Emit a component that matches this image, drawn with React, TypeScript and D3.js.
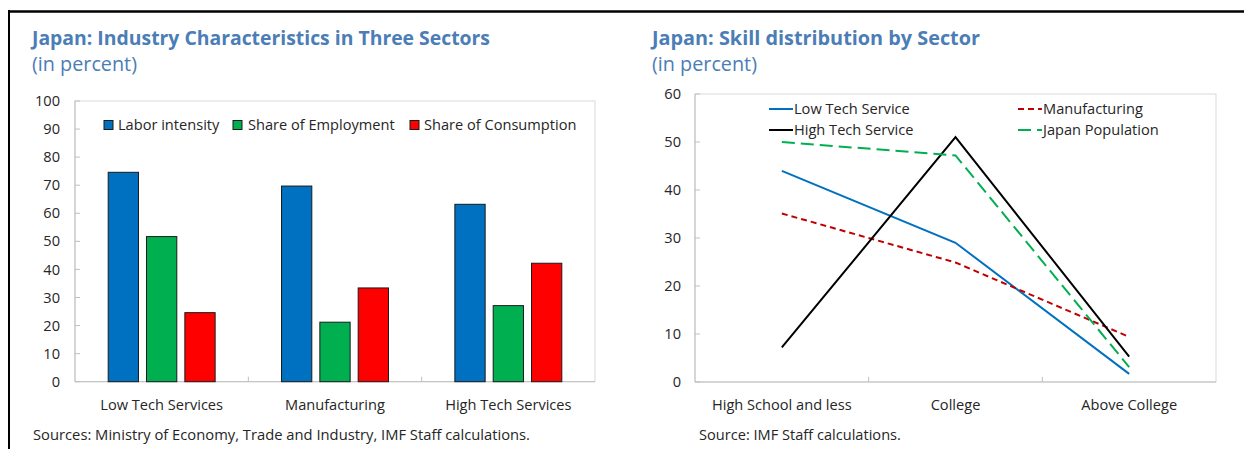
import React from "react";
import * as d3 from "d3";

// ---- Left chart data ----
const sectors = ["Low Tech Services", "Manufacturing", "High Tech Services"];
const barSeries = ["Labor intensity", "Share of Employment", "Share of Consumption"];
const laborIntensity = [74.6, 69.7, 63.2];
const shareEmployment = [51.7, 21.2, 27.1];
const shareConsumption = [24.6, 33.4, 42.2];
const barColors = ["#0070C0", "#00B050", "#FF0000"];
const barTicks = [0, 10, 20, 30, 40, 50, 60, 70, 80, 90, 100];

// ---- Right chart data ----
const skills = ["High School and less", "College", "Above College"];
const lineSeries = ["Low Tech Service", "Manufacturing", "High Tech Service", "Japan Population"];
const lowTechService = [44.0, 29.0, 1.7];
const manufacturing = [35.1, 24.9, 9.4];
const highTechService = [7.2, 51.0, 5.3];
const japanPopulation = [50.0, 47.2, 3.1];
const lineTicks = [0, 10, 20, 30, 40, 50, 60];

const FONT = "'Open Sans', 'Noto Sans', sans-serif";
const TXT = "#262626";
const AXIS = "#BFBFBF";
const TITLE = "#4B7DB6";
const FS = 14.6;

export default function App() {
  // left
  const L = { x0: 75, x1: 595, y0: 101, y1: 381.7 };
  const xL = d3.scaleBand<string>().domain(sectors).range([L.x0, L.x1]).padding(0);
  const xInner = d3
    .scaleBand<string>()
    .domain(barSeries)
    .range([xL.bandwidth() * 0.1915, xL.bandwidth() * 0.8085])
    .paddingInner(0.21)
    .paddingOuter(0);
  const yL = d3.scaleLinear().domain([0, 100]).range([L.y1, L.y0]);
  const barValues = [laborIntensity, shareEmployment, shareConsumption];

  // right
  const R = { x0: 695, x1: 1216, y0: 94, y1: 382 };
  const xR = d3.scalePoint<string>().domain(skills).range([R.x0, R.x1]).padding(0.5);
  const xRBand = d3.scaleBand<string>().domain(skills).range([R.x0, R.x1]).padding(0);
  const yR = d3.scaleLinear().domain([0, 60]).range([R.y1, R.y0]);
  const lineValues = [lowTechService, manufacturing, highTechService, japanPopulation];
  const lineColors = ["#0070C0", "#C00000", "#000000", "#00B050"];
  const lineDash = [null, "6,4", null, "13,6"];
  const lineGen = d3
    .line<number>()
    .x((_, i) => xR(skills[i]) as number)
    .y((d) => yR(d));

  const legendL = [
    { sq: 104, tx: 118 },
    { sq: 233, tx: 248 },
    { sq: 410, tx: 424 },
  ];
  const legendR = [
    { x: 769, y: 109 },
    { x: 1018, y: 109 },
    { x: 769, y: 130 },
    { x: 1018, y: 130 },
  ];

  return (
    <svg
      width={1244}
      height={449}
      style={{ position: "absolute", left: 0, top: 0, display: "block", background: "#fff" }}
      fontFamily={FONT}
    >
      {/* frame */}
      <line x1={8} x2={1244} y1={11.5} y2={11.5} stroke="#000" strokeWidth={2.5} />
      <line x1={9} x2={9} y1={10} y2={449} stroke="#000" strokeWidth={2} />

      {/* titles */}
      <text x={32} y={45} fontSize={19.5} fontWeight={700} fill={TITLE} textLength={458} lengthAdjust="spacingAndGlyphs">
        Japan: Industry Characteristics in Three Sectors
      </text>
      <text x={32} y={71} fontSize={19.8} fill={TITLE}>(in percent)</text>
      <text x={652} y={45} fontSize={19.5} fontWeight={700} fill={TITLE} textLength={328} lengthAdjust="spacingAndGlyphs">
        Japan: Skill distribution by Sector
      </text>
      <text x={652} y={71} fontSize={19.8} fill={TITLE}>(in percent)</text>

      {/* ---------- left chart ---------- */}
      <rect x={L.x0} y={L.y0} width={L.x1 - L.x0} height={L.y1 - L.y0} fill="none" stroke="#D9D9D9" strokeWidth={1} />
      <line x1={L.x0} x2={L.x0} y1={L.y0} y2={L.y1} stroke={AXIS} />
      <line x1={L.x0} x2={L.x1} y1={L.y1} y2={L.y1} stroke={AXIS} />
      {barTicks.map((t) => (
        <g key={t}>
          <line x1={L.x0} x2={L.x0 + 5} y1={yL(t)} y2={yL(t)} stroke={AXIS} />
          <text x={L.x0 - 15} y={yL(t)} dy="0.35em" textAnchor="end" fontSize={FS} fill={TXT}>
            {t}
          </text>
        </g>
      ))}
      {sectors.slice(1).map((s) => (
        <line key={s} x1={xL(s)} x2={xL(s)} y1={L.y1} y2={L.y1 - 5} stroke={AXIS} />
      ))}
      {sectors.map((s, i) => (
        <g key={s}>
          {barSeries.map((ser, j) => {
            const v = barValues[j][i];
            return (
              <rect
                key={ser}
                x={(xL(s) as number) + (xInner(ser) as number)}
                y={yL(v)}
                width={xInner.bandwidth()}
                height={yL(0) - yL(v)}
                fill={barColors[j]}
                stroke="#1a1a1a"
                strokeWidth={1}
              />
            );
          })}
          <text x={(xL(s) as number) + xL.bandwidth() / 2} y={405} dy="0.35em" textAnchor="middle" fontSize={FS} fill={TXT}>
            {s}
          </text>
        </g>
      ))}
      {barSeries.map((ser, j) => (
        <g key={ser}>
          <rect x={legendL[j].sq} y={120.5} width={9} height={9} fill={barColors[j]} stroke="#1a1a1a" strokeWidth={1} />
          <text x={legendL[j].tx} y={125} dy="0.35em" fontSize={FS} fill={TXT}>
            {ser}
          </text>
        </g>
      ))}
      <text x={33} y={435} dy="0.35em" fontSize={FS} fill={TXT} textLength={497} lengthAdjust="spacingAndGlyphs">
        Sources: Ministry of Economy, Trade and Industry, IMF Staff calculations.
      </text>

      {/* ---------- right chart ---------- */}
      <rect x={R.x0} y={R.y0} width={R.x1 - R.x0} height={R.y1 - R.y0} fill="none" stroke="#D9D9D9" strokeWidth={1} />
      <line x1={R.x0} x2={R.x0} y1={R.y0} y2={R.y1} stroke={AXIS} />
      <line x1={R.x0} x2={R.x1} y1={R.y1} y2={R.y1} stroke={AXIS} />
      {lineTicks.map((t) => (
        <g key={t}>
          <line x1={R.x0} x2={R.x0 + 5} y1={yR(t)} y2={yR(t)} stroke={AXIS} />
          <text x={R.x0 - 14} y={yR(t)} dy="0.35em" textAnchor="end" fontSize={FS} fill={TXT}>
            {t}
          </text>
        </g>
      ))}
      {skills.slice(1).map((s) => (
        <line key={s} x1={xRBand(s)} x2={xRBand(s)} y1={R.y1} y2={R.y1 - 5} stroke={AXIS} />
      ))}
      {skills.map((s) => (
        <text key={s} x={xR(s)} y={405} dy="0.35em" textAnchor="middle" fontSize={FS} fill={TXT}>
          {s}
        </text>
      ))}
      {lineValues.map((vals, k) => (
        <path
          key={lineSeries[k]}
          d={lineGen(vals) as string}
          fill="none"
          stroke={lineColors[k]}
          strokeWidth={2}
          strokeDasharray={lineDash[k] ?? undefined}
        />
      ))}
      {lineSeries.map((ser, k) => (
        <g key={ser}>
          <line
            x1={legendR[k].x}
            x2={legendR[k].x + 24}
            y1={legendR[k].y}
            y2={legendR[k].y}
            stroke={lineColors[k]}
            strokeWidth={2}
            strokeDasharray={lineDash[k] ?? undefined}
          />
          <text x={legendR[k].x + 25} y={legendR[k].y} dy="0.35em" fontSize={FS} fill={TXT}>
            {ser}
          </text>
        </g>
      ))}
      <text x={699} y={435} dy="0.35em" fontSize={FS} fill={TXT}>
        Source: IMF Staff calculations.
      </text>
    </svg>
  );
}
